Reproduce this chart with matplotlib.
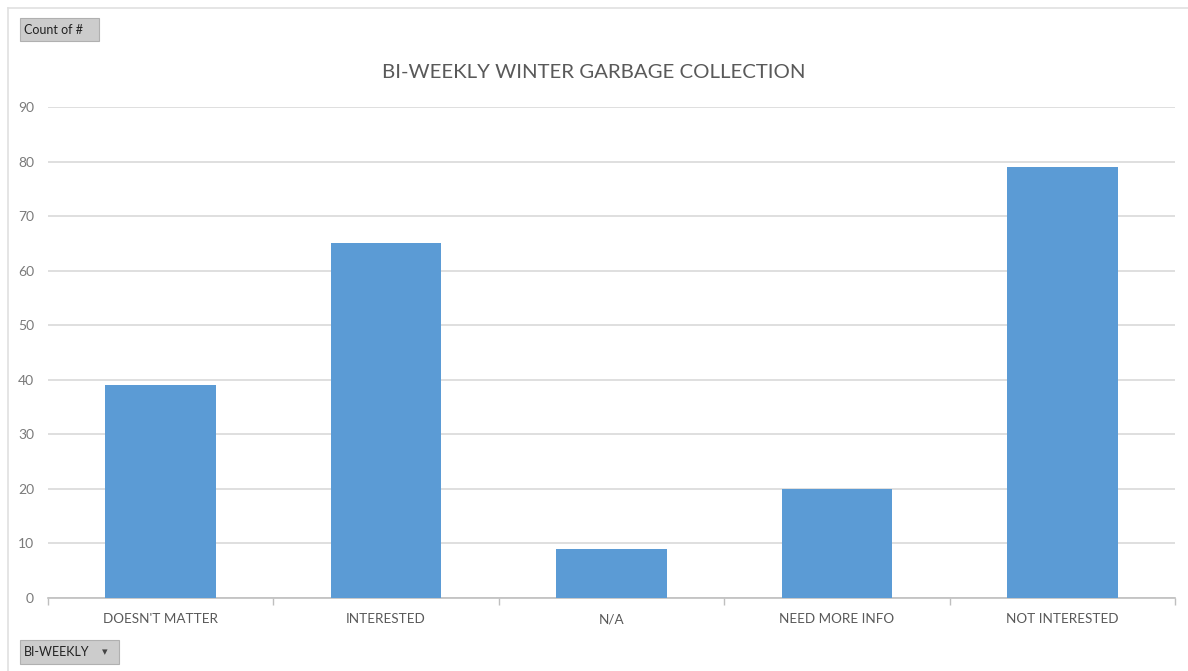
import matplotlib
matplotlib.use("Agg")
import matplotlib.pyplot as plt
from matplotlib.patches import Rectangle
from matplotlib.lines import Line2D

categories = ["DOESN'T MATTER", "INTERESTED", "N/A", "NEED MORE INFO", "NOT INTERESTED"]
counts = [39, 65, 9, 20, 79]
yticks = [0, 10, 20, 30, 40, 50, 60, 70, 80, 90]

plt.rcParams['font.family'] = ['Lato', 'DejaVu Sans']
text_color = '#595959'

fig = plt.figure(figsize=(11.88, 6.71), dpi=100)
fig.patch.set_facecolor('white')

# outer chart border
fig.add_artist(Line2D([8/1188, 8/1188], [0, 1 - 8/671], transform=fig.transFigure,
                      color='#e0e0e0', lw=1.2))
fig.add_artist(Line2D([8/1188, 1], [1 - 8/671, 1 - 8/671], transform=fig.transFigure,
                      color='#e0e0e0', lw=1.2))

ax = fig.add_axes([48/1188, (671-598)/671, (1175-48)/1188, (598-107)/671])
x = range(len(categories))
ax.bar(x, counts, width=0.49, color='#5b9bd5', zorder=3)
ax.set_ylim(0, 90)
ax.set_xlim(-0.5, len(categories) - 0.5)
ax.set_yticks(yticks)
ax.set_xticks(list(x))
ax.set_xticklabels(categories)
ax.grid(axis='y', color='#d9d9d9', lw=1.2, zorder=0)
for s in ['top', 'right', 'left']:
    ax.spines[s].set_visible(False)
ax.spines['bottom'].set_color('#bfbfbf')
ax.spines['bottom'].set_linewidth(1.2)
ax.tick_params(axis='y', length=0, labelsize=10, labelcolor='#7a7a7a', pad=10)
ax.tick_params(axis='x', length=0, labelsize=9.7, labelcolor=text_color, pad=11)
# minor ticks at category boundaries
ax.set_xticks([i + 0.5 for i in range(len(categories) - 1)] + [-0.5, len(categories) - 0.5], minor=True)
ax.tick_params(axis='x', which='minor', length=5, color='#bfbfbf', width=1)

fig.text(0.5, 1 - 72/671, "BI-WEEKLY WINTER GARBAGE COLLECTION", ha='center', va='center',
         fontsize=14.7, color=text_color)

# pivot buttons
def button(x0, y0, w, h, label, arrow=False):
    r = Rectangle((x0/1188, 1 - (y0 + h)/671), w/1188, h/671, transform=fig.transFigure,
                  facecolor='#cccccc', edgecolor='#b0b0b0', lw=0.8)
    fig.add_artist(r)
    fig.text((x0 + 4)/1188, 1 - (y0 + h/2)/671, label, ha='left', va='center',
             fontsize=9, color='#222222')
    if arrow:
        fig.text((x0 + w - 14)/1188, 1 - (y0 + h/2)/671, "▾", ha='center', va='center',
                 fontsize=8, color='#444444', family='DejaVu Sans')

button(20, 18, 79, 23, "Count of #")
button(20, 640, 99, 24, "BI-WEEKLY", arrow=True)

fig.savefig("out.png", dpi=100, facecolor='white')
